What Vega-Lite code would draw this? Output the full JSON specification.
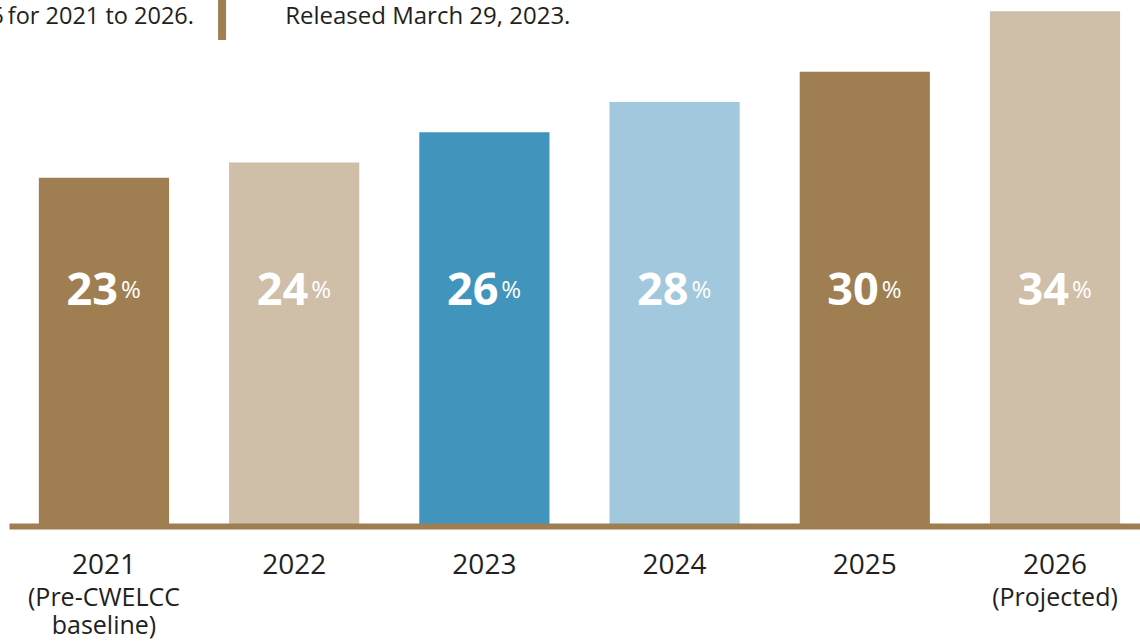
{
  "$schema": "https://vega.github.io/schema/vega-lite/v6.json",
  "width": 1131,
  "height": 526,
  "autosize": "none",
  "padding": {"left": 9, "top": 0, "right": 0, "bottom": 115},
  "background": "#ffffff",
  "config": {"view": {"stroke": null}, "font": "Open Sans"},
  "datasets": {
    "bars": [
      {"year": "2021", "value": 23, "sub": "(Pre-CWELCC\nbaseline)"},
      {"year": "2022", "value": 24, "sub": ""},
      {"year": "2023", "value": 26, "sub": ""},
      {"year": "2024", "value": 28, "sub": ""},
      {"year": "2025", "value": 30, "sub": ""},
      {"year": "2026", "value": 34, "sub": "(Projected)"}
    ],
    "notes": [
      {"year": "2021", "note": "5\u2009for 2021 to 2026."},
      {"year": "2022", "note": "Released March 29, 2023."}
    ]
  },
  "layer": [
    {
      "data": {"name": "bars"},
      "mark": {"type": "bar", "cornerRadius": 0},
      "encoding": {
        "x": {
          "field": "year", "type": "nominal", "sort": null,
          "scale": {"paddingInner": 0.3155, "paddingOuter": 0.1308, "align": 0.6},
          "axis": {
            "title": null, "labelAngle": 0, "ticks": false, "tickSize": 0,
            "labelPadding": 25, "labelFontSize": 28, "labelColor": "#231f20",
            "labelFont": "Open Sans",
            "domainColor": "#9f7f51", "domainWidth": 6, "zindex": 1
          }
        },
        "y": {
          "field": "value", "type": "quantitative",
          "scale": {"domain": [0, 34.74], "nice": false, "zero": true},
          "axis": null
        },
        "color": {
          "field": "year", "type": "nominal", "legend": null,
          "scale": {
            "domain": ["2021", "2022", "2023", "2024", "2025", "2026"],
            "range": ["#9f7f51", "#cfbea8", "#4194bb", "#a1c8dc", "#9f7f51", "#cfbea8"]
          }
        }
      }
    },
    {
      "data": {"name": "bars"},
      "mark": {"type": "text", "align": "right", "baseline": "middle", "dx": 14, "fontSize": 45, "fontWeight": "bold", "color": "#ffffff", "font": "Open Sans"},
      "encoding": {
        "x": {"field": "year", "type": "nominal", "sort": null},
        "y": {"datum": 15.5},
        "text": {"field": "value", "type": "quantitative"}
      }
    },
    {
      "data": {"name": "bars"},
      "mark": {"type": "text", "align": "left", "baseline": "middle", "dx": 17, "dy": 0, "fontSize": 24, "fontWeight": "normal", "color": "#ffffff", "font": "Open Sans"},
      "encoding": {
        "x": {"field": "year", "type": "nominal", "sort": null},
        "y": {"datum": 15.5},
        "text": {"value": "%"}
      }
    },
    {
      "data": {"name": "bars"},
      "mark": {"type": "text", "align": "center", "baseline": "top", "dy": 60, "fontSize": 25, "lineHeight": 28, "lineBreak": "\n", "color": "#231f20", "font": "Open Sans"},
      "encoding": {
        "x": {"field": "year", "type": "nominal", "sort": null},
        "y": {"datum": 0},
        "text": {"field": "sub", "type": "nominal"}
      }
    },
    {
      "data": {"name": "notes"},
      "transform": [{"filter": "datum.year == '2021'"}],
      "mark": {"type": "text", "align": "right", "baseline": "middle", "dx": 90, "dy": 3, "fontSize": 23.5, "color": "#231f20", "font": "Open Sans"},
      "encoding": {
        "x": {"field": "year", "type": "nominal", "sort": null},
        "y": {"datum": 33.82},
        "text": {"field": "note", "type": "nominal"}
      }
    },
    {
      "data": {"name": "notes"},
      "transform": [{"filter": "datum.year == '2022'"}],
      "mark": {"type": "text", "align": "left", "baseline": "middle", "dx": -9, "dy": 3, "fontSize": 24, "color": "#231f20", "font": "Open Sans"},
      "encoding": {
        "x": {"field": "year", "type": "nominal", "sort": null},
        "y": {"datum": 33.82},
        "text": {"field": "note", "type": "nominal"}
      }
    },
    {
      "data": {"name": "notes"},
      "transform": [{"filter": "datum.year == '2022'"}],
      "mark": {"type": "rule", "color": "#9f7f51", "strokeWidth": 8, "strokeCap": "butt", "xOffset": -7},
      "encoding": {
        "x": {"field": "year", "type": "nominal", "sort": null, "bandPosition": 0},
        "y": {"datum": 34.74},
        "y2": {"datum": 32.1}
      }
    }
  ]
}
